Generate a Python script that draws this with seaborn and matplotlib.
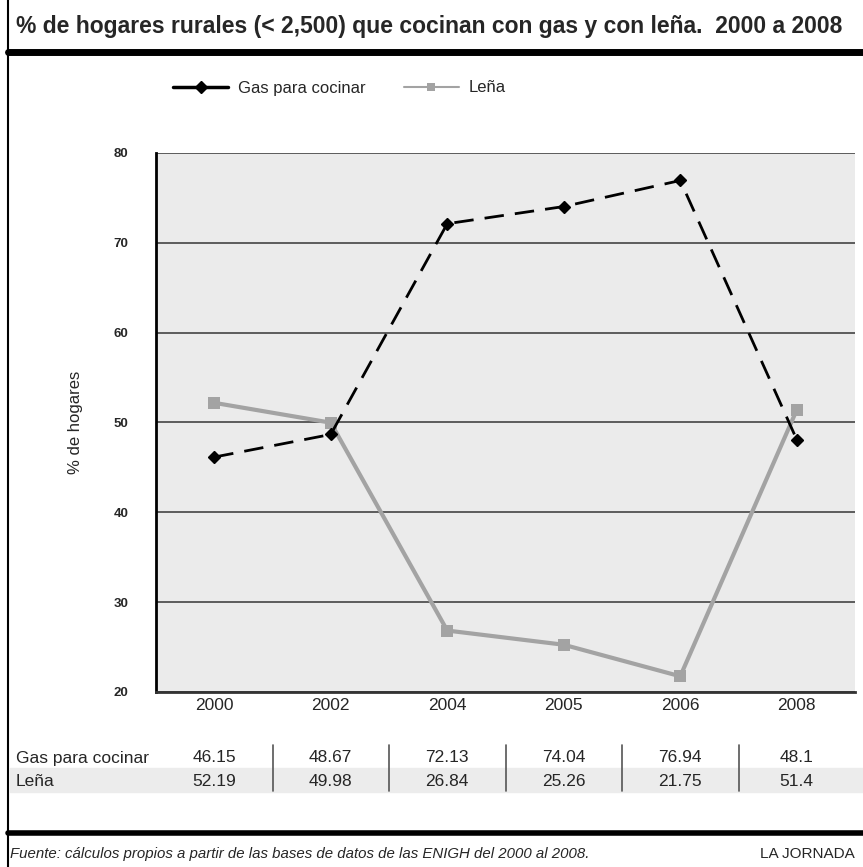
import numpy as np
import pandas as pd
import matplotlib.pyplot as plt
import matplotlib.transforms as mtransforms
from matplotlib.lines import Line2D
from matplotlib.patches import Rectangle
import seaborn as sns

years = ["2000", "2002", "2004", "2005", "2006", "2008"]
gas = [46.15, 48.67, 72.13, 74.04, 76.94, 48.1]
lena = [52.19, 49.98, 26.84, 25.26, 21.75, 51.4]
series_names = ["Gas para cocinar", "Leña"]
gas_str = ["46.15", "48.67", "72.13", "74.04", "76.94", "48.1"]
lena_str = ["52.19", "49.98", "26.84", "25.26", "21.75", "51.4"]

sns.set_style("white")
plt.rcParams['font.family'] = ['Liberation Sans', 'DejaVu Sans']

W, H = 863, 867
fig = plt.figure(figsize=(W / 100, H / 100), dpi=100)

def fy(y):
    return 1 - y / H

ax = fig.add_axes([156 / W, fy(692), (855 - 156) / W, (692 - 153) / H])
ax.set_facecolor("#ebebeb")

df = pd.DataFrame({"year": years * 2,
                   "valor": gas + lena,
                   "serie": [series_names[0]] * 6 + [series_names[1]] * 6})
x = np.arange(len(years))
ax.plot(x, gas, color="black", lw=2, dashes=(7, 4), marker="D", ms=6, zorder=4)
sns.lineplot(data=df[df.serie == series_names[1]], x="year", y="valor", ax=ax,
             color="#a3a3a3", lw=3, marker="s", ms=8, markeredgewidth=0,
             sort=False, zorder=3)

ax.set_xlim(-0.5, 5.5)
ax.set_ylim(20, 80)
ax.set_yticks([20, 30, 40, 50, 60, 70, 80])
ax.grid(axis="y", color="#444444", lw=1.2)
ax.set_axisbelow(True)
for s in ["top", "right"]:
    ax.spines[s].set_visible(False)
ax.spines["left"].set_color("black")
ax.spines["left"].set_linewidth(2)
ax.spines["bottom"].set_color("#333333")
ax.spines["bottom"].set_linewidth(2)
ax.tick_params(axis="y", length=6, width=2, color="black", labelsize=9.5, pad=14)
ax.tick_params(axis="x", length=0, labelsize=12.5, pad=4)
for t in ax.get_yticklabels():
    t.set_fontweight("bold")
ax.set_xticks(x)
ax.set_xticklabels(years)
ax.set_xlabel("")
ax.set_ylabel("% de hogares", fontsize=12, labelpad=22)

# Title, rules and border
fig.text(16 / W, fy(26), "% de hogares rurales (< 2,500) que cocinan con gas y con leña.  2000 a 2008",
         fontsize=16.5, fontweight="bold", va="center", ha="left")
fig.add_artist(Line2D([8 / W, 1], [fy(52), fy(52)], color="black", lw=5))
fig.add_artist(Line2D([8 / W, 1], [fy(833), fy(833)], color="black", lw=4))
fig.add_artist(Line2D([8 / W, 8 / W], [0, 1], color="black", lw=1.5))

# Legend
handles = [Line2D([], [], color="black", lw=2.5, marker="D", ms=6),
           Line2D([], [], color="#a3a3a3", lw=1.5, marker="s", ms=6, markeredgewidth=0)]
fig.legend(handles, series_names, loc="center left", bbox_to_anchor=(158 / W, fy(88)),
           ncol=2, frameon=False, fontsize=12, handlelength=3.3, handletextpad=0.6,
           columnspacing=2.3)

# Table under the chart
trans = mtransforms.blended_transform_factory(ax.transData, fig.transFigure)
fig.add_artist(Rectangle((10 / W, fy(792)), 1, (792 - 768) / H, transform=fig.transFigure,
                         color="#ececec", zorder=0))
fig.text(16 / W, fy(758), series_names[0], fontsize=12.5, va="center")
fig.text(16 / W, fy(781), series_names[1], fontsize=12.5, va="center")
for i in range(len(years)):
    fig.text(x[i], fy(758), gas_str[i], transform=trans, ha="center", va="center", fontsize=12.5)
    fig.text(x[i], fy(781), lena_str[i], transform=trans, ha="center", va="center", fontsize=12.5)
for i in range(len(years) - 1):
    fig.add_artist(Line2D([x[i] + 0.5, x[i] + 0.5], [fy(745), fy(791)], transform=trans,
                          color="#555555", lw=1.2))

# Footer
fig.text(10 / W, fy(854), "Fuente: cálculos propios a partir de las bases de datos de las ENIGH del 2000 al 2008.",
         fontsize=10.8, style="italic", va="center")
fig.text(855 / W, fy(854), "LA JORNADA", fontsize=11, ha="right", va="center")

fig.savefig("out.png", dpi=100)
